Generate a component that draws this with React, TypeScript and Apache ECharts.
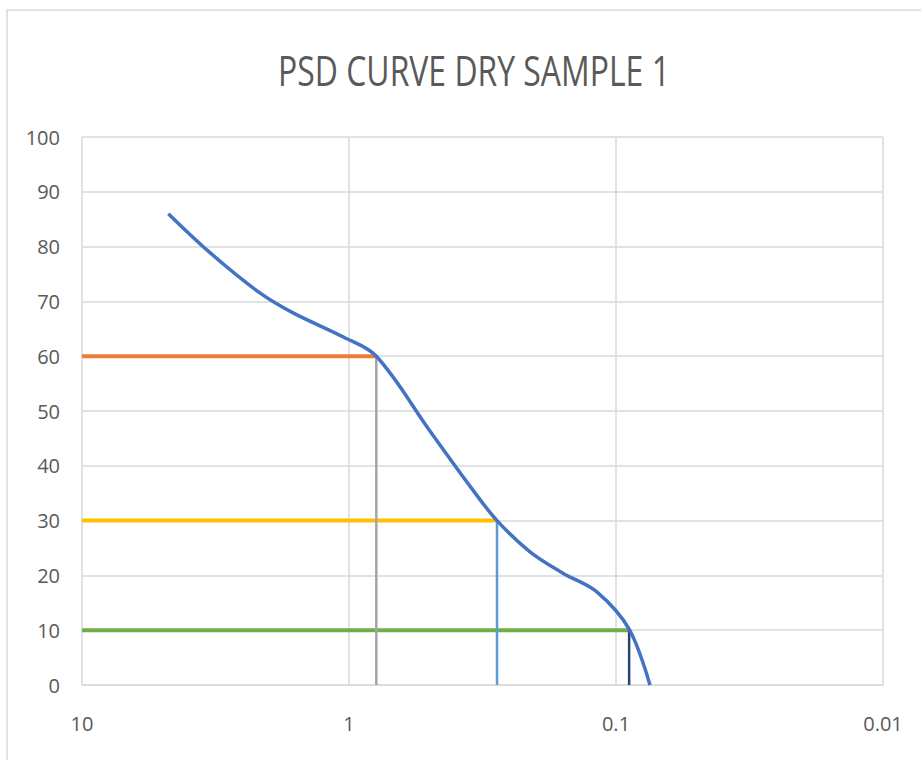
import React, { useEffect, useRef } from "react";
import * as echarts from "echarts";

// Particle size (mm) and cumulative percent passing
const sieveSizes = [4.75, 3.3, 2.15, 1.62, 1.05, 0.79, 0.5, 0.35, 0.279, 0.21, 0.158, 0.118, 0.0893, 0.0746];
const percentPassing = [86, 78.8, 71.5, 67.9, 63.5, 60, 46.5, 36.1, 30, 24.3, 20.4, 17, 10.2, 0];

// Characteristic diameters D60, D30, D10
const dNames = ["D60", "D30", "D10"];
const dPercent = [60, 30, 10];
const dSize = [0.79, 0.279, 0.0893];
const hColors = ["#ED7D31", "#FFC000", "#70AD47"];
const vColors = ["#A5A5A5", "#5B9BD5", "#264478"];

const xMin = 0.01;
const xMax = 10;
const yMin = 0;
const yMax = 100;
const yInterval = 10;
const title = "PSD CURVE DRY SAMPLE 1";

export default function App() {
  const ref = useRef<HTMLDivElement>(null);
  useEffect(() => {
    if (!ref.current) return;
    const chart = echarts.init(ref.current, null, { renderer: "svg" });
    const labelFont = "'Open Sans', 'Liberation Sans', sans-serif";
    const series: any[] = [];
    dNames.forEach((n, i) => {
      series.push({
        name: n + " h",
        type: "line",
        data: [
          [xMax, dPercent[i]],
          [dSize[i], dPercent[i]],
        ],
        symbol: "none",
        lineStyle: { color: hColors[i], width: 4 },
        z: 2,
      });
    });
    dNames.forEach((n, i) => {
      series.push({
        name: n + " v",
        type: "line",
        data: [
          [dSize[i], yMin],
          [dSize[i], dPercent[i]],
        ],
        symbol: "none",
        lineStyle: { color: vColors[i], width: 2.5 },
        z: 3,
      });
    });
    series.push({
      name: "PSD",
      type: "line",
      data: sieveSizes.map((s, i) => [s, percentPassing[i]]),
      smooth: 0.35,
      symbol: "none",
      lineStyle: { color: "#4472C4", width: 3.5 },
      z: 4,
    });

    chart.setOption({
      animation: false,
      backgroundColor: "#ffffff",
      graphic: [
        {
          type: "rect",
          shape: { x: 7, y: 10, width: 1000, height: 900 },
          style: { fill: "none", stroke: "#D9D9D9", lineWidth: 1.5 },
          z: -1,
        },
        {
          type: "text",
          x: 474,
          y: 70,
          scaleX: 0.76,
          style: {
            text: title,
            fontFamily: labelFont,
            fontSize: 42,
            fill: "#595959",
            align: "center",
            verticalAlign: "middle",
          },
        },
      ],
      grid: { left: 82, right: 38, top: 137, bottom: 75, containLabel: false },
      xAxis: {
        type: "log",
        logBase: 10,
        min: xMin,
        max: xMax,
        inverse: true,
        axisLine: { show: true, lineStyle: { color: "#D9D9D9", width: 1.5 } },
        axisTick: { show: false },
        splitLine: { show: true, lineStyle: { color: "#D9D9D9", width: 1.5 } },
        axisLabel: {
          color: "#595959",
          fontFamily: labelFont,
          fontSize: 20,
          margin: 28,
          formatter: (v: number) => String(+Number(v).toPrecision(3)),
        },
      },
      yAxis: {
        type: "value",
        min: yMin,
        max: yMax,
        interval: yInterval,
        axisLine: { show: false },
        axisTick: { show: false },
        splitLine: { show: true, lineStyle: { color: "#D9D9D9", width: 1.5 } },
        axisLabel: { color: "#595959", fontFamily: labelFont, fontSize: 20, margin: 22 },
      },
      series,
    });
    return () => chart.dispose();
  }, []);
  return (
    <div
      ref={ref}
      style={{ position: "absolute", left: 0, top: 0, width: 921, height: 760 }}
    />
  );
}
